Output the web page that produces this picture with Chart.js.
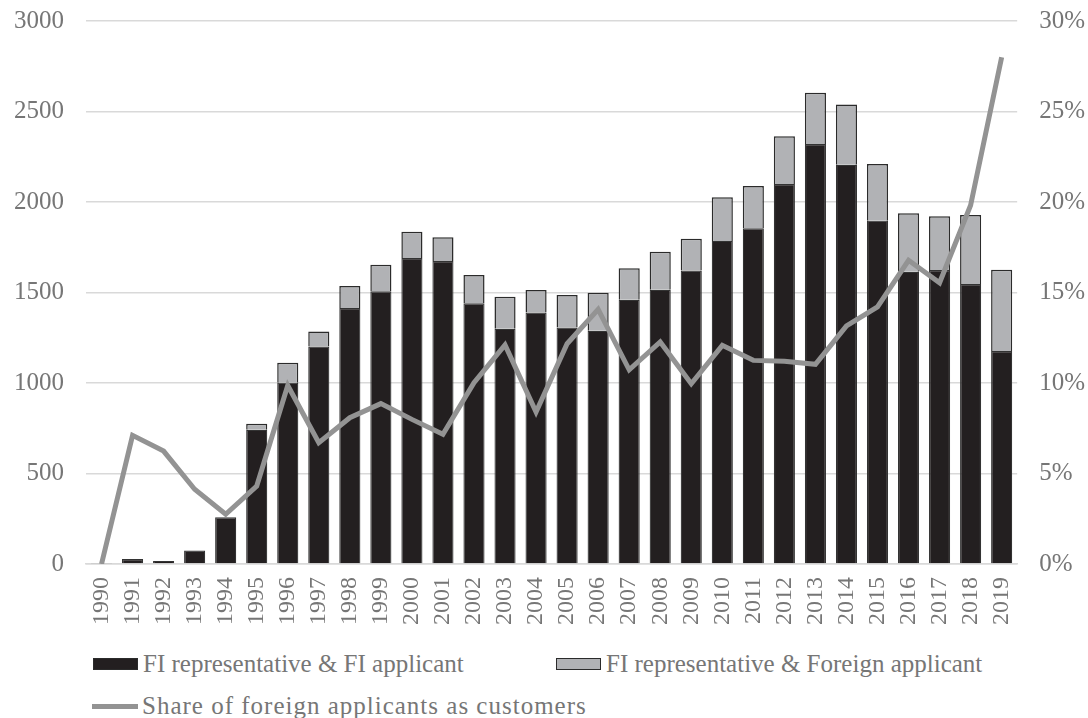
<!DOCTYPE html>
<html>
<head>
<meta charset="utf-8">
<script src="https://cdn.jsdelivr.net/npm/chart.js@4"></script>
<style>
  html, body { margin: 0; padding: 0; background: #ffffff; }
  #wrap { position: relative; width: 1088px; height: 718px; overflow: hidden; }
  #c { position: absolute; left: 0; top: -16px; }
  .lg { position: absolute; font-family: "Liberation Serif", "DejaVu Serif", serif; font-size: 25px; color: #767676; white-space: nowrap; line-height: 30px; }
  .lg .box { position: absolute; left: 0; top: 9px; width: 45px; height: 12px; box-sizing: border-box; border: 1.5px solid #2b2b2b; }
  .lg .ln { position: absolute; left: 0; top: 13px; width: 46px; height: 5px; background: #939393; }
  .lg .tx { position: absolute; left: 50px; top: 0; }
</style>
</head>
<body>
<div id="wrap">
  <canvas id="c" width="1088" height="654"></canvas>
  <div id="legend"></div>
</div>
<script>
const years = ["1990","1991","1992","1993","1994","1995","1996","1997","1998","1999","2000","2001","2002","2003","2004","2005","2006","2007","2008","2009","2010","2011","2012","2013","2014","2015","2016","2017","2018","2019"];
const fiRepFiApplicant = [5,28,17,74,258,742,1002,1201,1414,1507,1691,1674,1440,1300,1389,1306,1289,1460,1515,1621,1785,1855,2099,2320,2206,1897,1615,1624,1547,1177];
const fiRepForeignApplicant = [0,0,0,0,0,33,110,84,122,147,145,131,157,177,125,180,210,174,210,176,241,233,264,284,332,313,323,297,381,449];
const shareForeign = [0,7.11,6.24,4.13,2.75,4.31,9.86,6.7,8.08,8.86,7.99,7.17,10.02,12.1,8.4,12.17,14.07,10.73,12.27,9.96,12.08,11.25,11.2,11.03,13.15,14.2,16.78,15.54,19.82,28.0];
const seriesLabels = ["FI representative & FI applicant", "FI representative & Foreign applicant", "Share of foreign applicants as customers"];

const FONT = "'Liberation Serif', 'DejaVu Serif', serif";
const TXT = "#767676";
const GRID = "#d9d9d9";

new Chart(document.getElementById("c"), {
  data: {
    labels: years,
    datasets: [
      { type: "line", label: seriesLabels[2], data: shareForeign.map(v => v / 100), yAxisID: "y1",
        borderColor: "#939393", borderWidth: 5, pointRadius: 0, tension: 0, fill: false, order: 0 },
      { type: "bar", label: seriesLabels[0], data: fiRepFiApplicant, yAxisID: "y",
        backgroundColor: "#231f20", borderColor: "#333333", borderWidth: 1.2, order: 1,
        barPercentage: 0.68, categoryPercentage: 1.0 },
      { type: "bar", label: seriesLabels[1], data: fiRepForeignApplicant, yAxisID: "y",
        backgroundColor: "#b1b2b5", borderColor: "#2b2b2b", borderWidth: 1.5, order: 1,
        barPercentage: 0.68, categoryPercentage: 1.0 }
    ]
  },
  options: {
    responsive: false,
    animation: false,
    devicePixelRatio: 1,
    layout: { padding: { left: -8, right: -19, top: 0, bottom: 0 } },
    plugins: { legend: { display: false }, tooltip: { enabled: false } },
    scales: {
      x: {
        stacked: true,
        grid: { display: false, drawTicks: false },
        border: { display: true, color: GRID, width: 1.5 },
        ticks: { color: TXT, font: { family: FONT, size: 24 }, minRotation: 90, maxRotation: 90, padding: 13, autoSkip: false }
      },
      y: {
        stacked: true, position: "left", min: 0, max: 3000,
        grid: { color: GRID, lineWidth: 1.5, drawTicks: false },
        border: { display: false },
        ticks: { stepSize: 500, color: TXT, font: { family: FONT, size: 25 }, padding: 22,
          callback: v => String(v) }
      },
      y1: {
        position: "right", min: 0, max: 0.3,
        grid: { display: false, drawTicks: false },
        border: { display: false },
        ticks: { stepSize: 0.05, color: TXT, font: { family: FONT, size: 25 }, padding: 22,
          callback: v => Math.round(v * 100) + "%" }
      }
    }
  }
});

// HTML legend built from series labels
const legend = document.getElementById("legend");
const items = [
  { label: seriesLabels[0], kind: "box", color: "#231f20", left: 93, top: 649, ls: 0 },
  { label: seriesLabels[1], kind: "box", color: "#b1b2b5", left: 556, top: 649, ls: 0 },
  { label: seriesLabels[2], kind: "line", color: "#939393", left: 92, top: 691, ls: 1 }
];
items.forEach(it => {
  const d = document.createElement("div");
  d.className = "lg";
  d.style.left = it.left + "px";
  d.style.top = it.top + "px";
  const m = document.createElement("span");
  m.className = it.kind === "box" ? "box" : "ln";
  if (it.kind === "box") m.style.background = it.color;
  const t = document.createElement("span");
  t.className = "tx";
  t.style.letterSpacing = it.ls + "px";
  t.textContent = it.label;
  d.appendChild(m); d.appendChild(t);
  legend.appendChild(d);
});
</script>
</body>
</html>
